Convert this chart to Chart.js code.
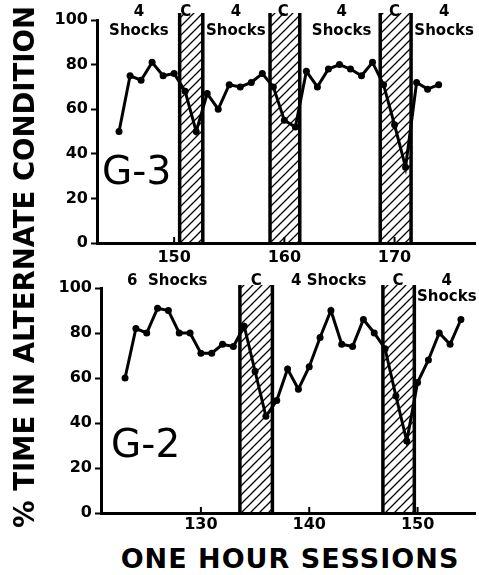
<!DOCTYPE html>
<html>
<head>
<meta charset="utf-8">
<script src="https://cdn.jsdelivr.net/npm/chart.js@4.4.1/dist/chart.umd.min.js"></script>
<style>
  body { margin: 0; background: #fff; width: 479px; height: 575px; overflow: hidden; position: relative; font-family: "DejaVu Sans", sans-serif; }
  .box { position: absolute; left: 0; width: 479px; }
  #ytitle { position: absolute; left: 24px; top: 267px; transform: translate(-50%, -50%) rotate(-90deg); white-space: nowrap; font: bold 27.5px "DejaVu Sans", sans-serif; }
  #xtitle { position: absolute; left: 290px; top: 558px; transform: translate(-50%, -50%); white-space: nowrap; font: bold 27px "DejaVu Sans", sans-serif; letter-spacing: 1px; }
</style>
</head>
<body>
<div class="box" style="top:0;height:268px"><canvas id="g3"></canvas></div>
<div class="box" style="top:268px;height:270px"><canvas id="g2"></canvas></div>
<div id="ytitle">% TIME IN ALTERNATE CONDITION</div>
<div id="xtitle">ONE HOUR SESSIONS</div>
<script>
// valeurs
var sessionsG3 = [145, 146, 147, 148, 149, 150, 151, 152, 153, 154, 155, 156, 157, 158, 159, 160, 161, 162, 163, 164, 165, 166, 167, 168, 169, 170, 171, 172, 173, 174];
var valuesG3 = [50, 75, 73, 81, 75, 76, 68, 50, 67, 60, 71, 70, 72, 76, 70, 55, 52, 77, 70, 78, 80, 78, 75, 81, 71, 53, 34, 72, 69, 71];
var sessionsG2 = [123, 124, 125, 126, 127, 128, 129, 130, 131, 132, 133, 134, 135, 136, 137, 138, 139, 140, 141, 142, 143, 144, 145, 146, 147, 148, 149, 150, 151, 152, 153, 154];
var valuesG2 = [60, 82, 80, 91, 90, 80, 80, 71, 71, 75, 74, 83, 63, 43, 50, 64, 55, 65, 78, 90, 75, 74, 86, 80, 73, 52, 32, 58, 68, 80, 75, 86];

// periodes "C" (hachurees)
var bandsG3 = [[150.5, 152.6], [158.7, 161.4], [168.7, 171.5]];
var bandsG2 = [[133.6, 136.6], [146.8, 149.7]];

var xTicksG3 = [150, 160, 170];
var xTicksG2 = [130, 140, 150];
var yTicks = [0, 20, 40, 60, 80, 100];

var notesG3 = ['4\nShocks', 'C', '4\nShocks', 'C', '4\nShocks', 'C', '4\nShocks'];
var notesAtG3 = [146.8, 151.05, 155.6, 159.9, 165.2, 170, 174.5];
var notesG2 = ['6  Shocks', 'C', '4 Shocks', 'C', '4\nShocks'];
var notesAtG2 = [126.9, 135.1, 141.8, 148.2, 152.7];

var FONT = '"DejaVu Sans", sans-serif';

function hatch(ctx) {
    var n = 9;
    var c = document.createElement('canvas');
    c.width = n; c.height = n;
    var p = c.getContext('2d');
    p.fillStyle = '#fff';
    p.fillRect(0, 0, n, n);
    p.strokeStyle = '#000';
    p.lineWidth = 1.3;
    p.beginPath();
    p.moveTo(-2, n + 2); p.lineTo(n + 2, -2);
    p.moveTo(-2, 2); p.lineTo(2, -2);
    p.moveTo(n - 2, n + 2); p.lineTo(n + 2, n - 2);
    p.stroke();
    return ctx.createPattern(c, 'repeat');
}

var panelPlugin = {
    id: 'panel',
    beforeDatasetsDraw: function (chart, args, opts) {
        var ctx = chart.ctx, x = chart.scales.x, a = chart.chartArea;
        ctx.save();
        opts.bands.forEach(function (b) {
            var x0 = x.getPixelForValue(b[0]), x1 = x.getPixelForValue(b[1]);
            var top = a.top - opts.rise;
            ctx.fillStyle = hatch(ctx);
            ctx.fillRect(x0, top, x1 - x0, a.bottom - top - 1);
            ctx.strokeStyle = '#000';
            ctx.lineWidth = 3.5;
            ctx.beginPath();
            ctx.moveTo(x0, top); ctx.lineTo(x0, a.bottom);
            ctx.moveTo(x1, top); ctx.lineTo(x1, a.bottom);
            ctx.stroke();
        });
        ctx.restore();
    },
    afterDraw: function (chart, args, opts) {
        var ctx = chart.ctx, x = chart.scales.x, y = chart.scales.y, a = chart.chartArea;
        ctx.save();
        // petits traits vers l'interieur sur l'axe x
        ctx.strokeStyle = '#000';
        ctx.lineWidth = 2;
        opts.xticks.forEach(function (v) {
            var px = x.getPixelForValue(v);
            ctx.beginPath(); ctx.moveTo(px, a.bottom); ctx.lineTo(px, a.bottom - 6); ctx.stroke();
        });
        ctx.fillStyle = '#000';
        ctx.textAlign = 'center';
        ctx.textBaseline = 'middle';
        ctx.font = 'bold 15px ' + FONT;
        opts.notes.forEach(function (t, i) {
            var px = x.getPixelForValue(opts.notesAt[i]);
            t.split('\n').forEach(function (line, j) {
                ctx.fillText(line, px, opts.lineY[j]);
            });
        });
        ctx.font = '39px ' + FONT;
        ctx.fillText(opts.name, x.getPixelForValue(opts.nameAt[0]), y.getPixelForValue(opts.nameAt[1]));
        ctx.restore();
    }
};

function makePanel(id, sessions, values, xmin, xmax, xticks, yAxisWidth, panel) {
    var pts = sessions.map(function (s, i) { return { x: s, y: values[i] }; });
    var tickFont = { family: FONT, size: 16, weight: 'bold' };
    return new Chart(document.getElementById(id), {
        type: 'line',
        data: {
            datasets: [{
                data: pts,
                borderColor: '#000',
                borderWidth: 3,
                pointRadius: 3.5,
                pointBackgroundColor: '#000',
                pointBorderWidth: 0,
                tension: 0
            }]
        },
        options: {
            responsive: true,
            maintainAspectRatio: false,
            animation: false,
            layout: { padding: { top: 20, right: panel.padRight, left: 0, bottom: 0 } },
            plugins: { legend: { display: false }, tooltip: { enabled: false }, panel: panel },
            scales: {
                x: {
                    type: 'linear', min: xmin, max: xmax,
                    afterBuildTicks: function (s) { s.ticks = xticks.map(function (v) { return { value: v }; }); },
                    afterFit: function (s) { s.height = 25; },
                    grid: { drawOnChartArea: false, drawTicks: false },
                    border: { color: '#000', width: 3 },
                    ticks: { color: '#000', font: tickFont, padding: panel.xpad, maxRotation: 0 }
                },
                y: {
                    min: 0, max: 100,
                    afterBuildTicks: function (s) { s.ticks = yTicks.map(function (v) { return { value: v }; }); },
                    afterFit: function (s) { s.width = yAxisWidth; },
                    grid: { drawOnChartArea: false, tickLength: 6, tickColor: '#000', tickWidth: 2 },
                    border: { color: '#000', width: 3 },
                    ticks: { color: '#000', font: tickFont, padding: 3 }
                }
            }
        },
        plugins: [panelPlugin]
    });
}

makePanel('g3', sessionsG3, valuesG3, 143, 177.3, xTicksG3, 97, {
    bands: bandsG3, rise: 7, xticks: xTicksG3, notes: notesG3, notesAt: notesAtG3,
    lineY: [12, 31], name: 'G-3', nameAt: [146.6, 31], padRight: 1, xpad: 5
});
makePanel('g2', sessionsG2, valuesG2, 120.78, 155.3, xTicksG2, 101, {
    bands: bandsG2, rise: 3, xticks: xTicksG2, notes: notesG2, notesAt: notesAtG2,
    lineY: [13, 29], name: 'G-2', nameAt: [124.9, 29.5], padRight: 0, xpad: 2
});
</script>
</body>
</html>
